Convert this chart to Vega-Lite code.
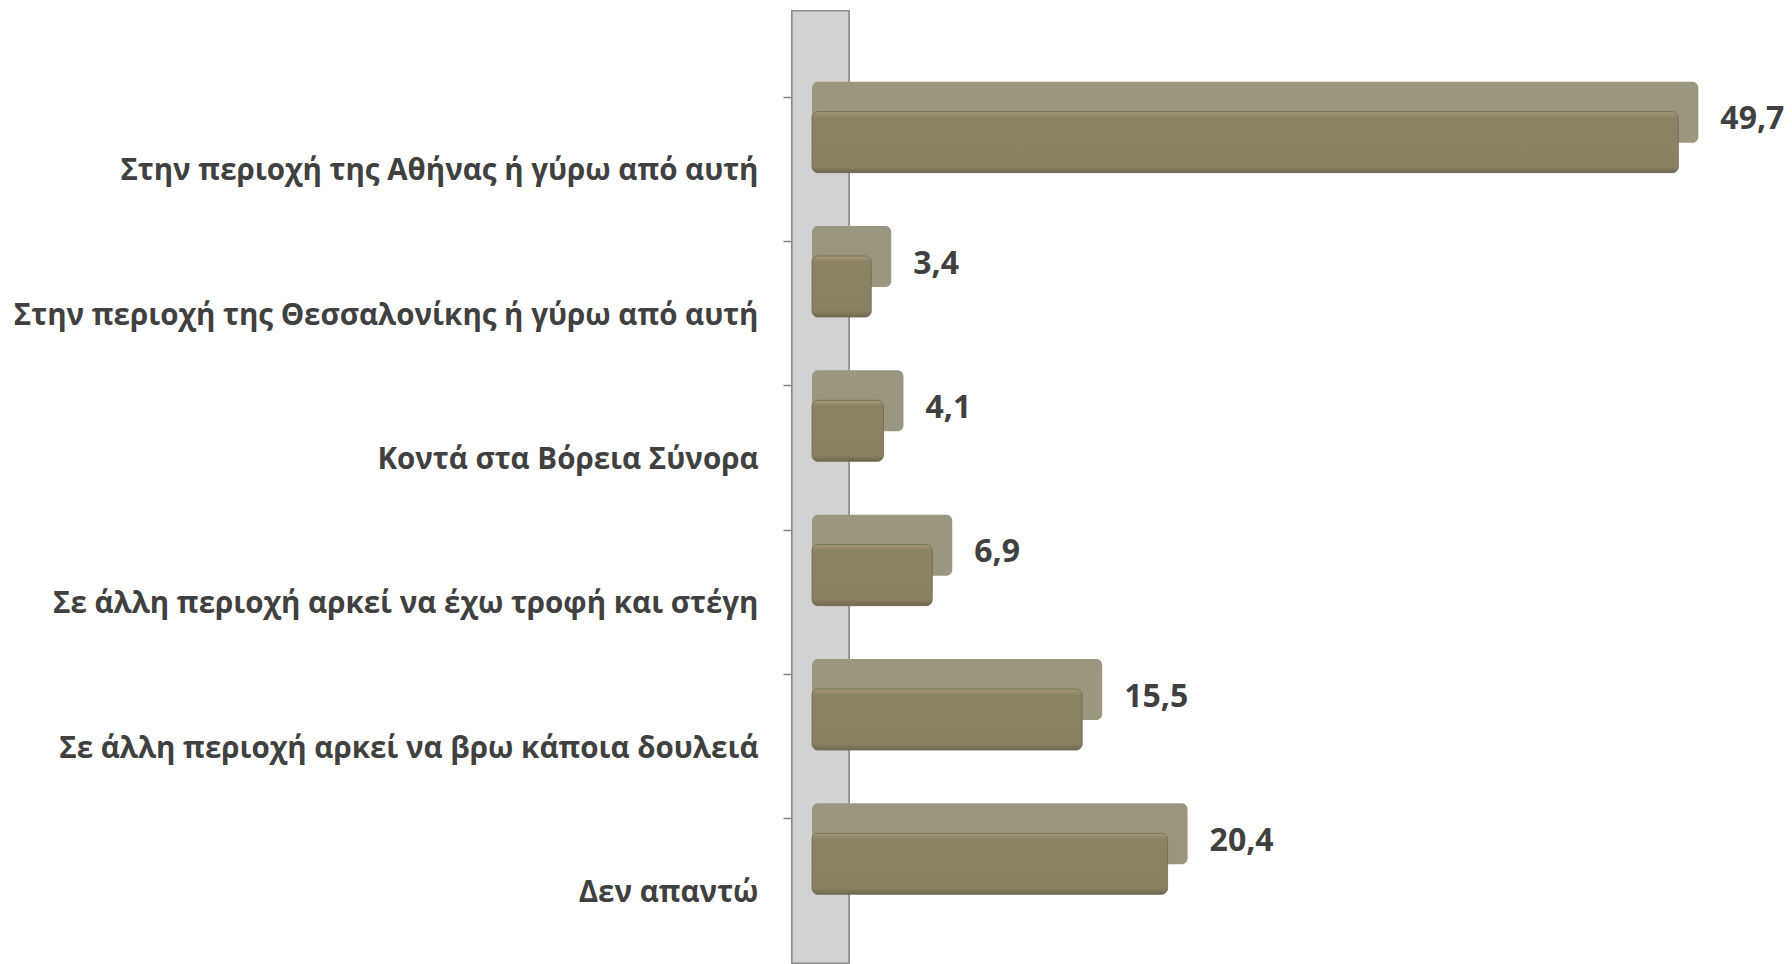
{
  "$schema": "https://vega.github.io/schema/vega-lite/v6.json",
  "width": 1000,
  "height": 952,
  "autosize": "none",
  "padding": {"left": 792, "top": 11, "right": 0, "bottom": 1},
  "background": "white",
  "config": {
    "view": {"stroke": null},
    "locale": {"number": {"decimal": ",", "thousands": ".", "grouping": [3], "currency": ["", " €"]}}
  },
  "data": {
    "values": [
      {"category": "Στην περιοχή της Αθήνας ή γύρω από αυτή", "value": 49.7},
      {"category": "Στην περιοχή της Θεσσαλονίκης ή γύρω από αυτή", "value": 3.4},
      {"category": "Κοντά στα Βόρεια Σύνορα", "value": 4.1},
      {"category": "Σε άλλη περιοχή αρκεί να έχω τροφή και στέγη", "value": 6.9},
      {"category": "Σε άλλη περιοχή αρκεί να βρω κάποια δουλειά", "value": 15.5},
      {"category": "Δεν απαντώ", "value": 20.4}
    ]
  },
  "layer": [
    {
      "mark": {"type": "rect", "fill": "#d2d2d2", "stroke": "#8a8a8a", "strokeWidth": 1.2},
      "encoding": {
        "x": {"datum": -1.147, "type": "quantitative", "scale": {"domain": [-1.147, 56.22], "nice": false, "zero": false}, "axis": null},
        "x2": {"datum": 2.12}
      }
    },
    {
      "mark": {"type": "bar", "color": "#9b9680", "size": 61, "yOffset": -57, "xOffset": 20, "cornerRadius": 6},
      "encoding": {
        "y": {"field": "category", "type": "nominal", "sort": null,
              "scale": {"paddingInner": 0, "paddingOuter": 0.298, "align": 1},
              "axis": {"title": null, "domain": false, "ticks": true, "tickSize": 9, "tickColor": "#868686", "tickWidth": 1.5,
                       "bandPosition": 0, "labelOffset": 2, "labelPadding": 25, "labelFont": "Open Sans", "labelFontWeight": "bold",
                       "labelFontSize": 29.5, "labelColor": "#404040", "labelLimit": 0}},
        "x": {"field": "value", "type": "quantitative", "scale": {"domain": [-1.147, 56.22], "nice": false, "zero": false}, "axis": null},
        "x2": {"datum": 0}
      }
    },
    {
      "mark": {"type": "bar", "size": 61, "yOffset": -27, "cornerRadius": 6, "stroke": "#6f6850", "strokeWidth": 0.8,
               "color": {"gradient": "linear", "x1": 0, "y1": 0, "x2": 0, "y2": 1,
                         "stops": [{"offset": 0, "color": "#a49a7a"}, {"offset": 0.1, "color": "#8b8163"}, {"offset": 0.9, "color": "#8a8062"}, {"offset": 1, "color": "#6e6650"}]}},
      "encoding": {
        "y": {"field": "category", "type": "nominal", "sort": null},
        "x": {"field": "value", "type": "quantitative", "scale": {"domain": [-1.147, 56.22], "nice": false, "zero": false}, "axis": null},
        "x2": {"datum": 0}
      }
    },
    {
      "mark": {"type": "text", "align": "left", "baseline": "middle", "dx": 42, "dy": -50, "font": "Open Sans", "fontWeight": "bold", "fontSize": 32, "color": "#404040"},
      "encoding": {
        "y": {"field": "category", "type": "nominal", "sort": null},
        "x": {"field": "value", "type": "quantitative", "scale": {"domain": [-1.147, 56.22], "nice": false, "zero": false}, "axis": null},
        "text": {"field": "value", "type": "quantitative", "format": ".1f"}
      }
    }
  ]
}
